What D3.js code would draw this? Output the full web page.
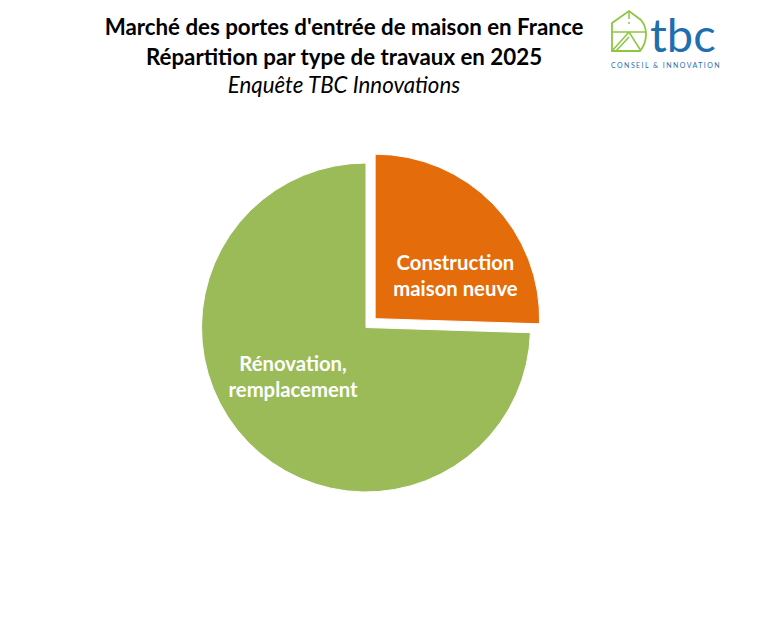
<!DOCTYPE html>
<html><head><meta charset="utf-8">
<script src="https://cdn.jsdelivr.net/npm/d3@7"></script>
<style>body{margin:0;background:#fff}</style>
</head><body>
<svg id="c" width="782" height="619"></svg>
<script>
const categories = ["Construction maison neuve", "Rénovation, remplacement"];
const labelLines = [["Construction", "maison neuve"], ["Rénovation,", "remplacement"]];
const values = [25.5, 74.5];
const colors = ["#E46C0A", "#9BBB59"];
const titleLines = ["Marché des portes d'entrée de maison en France", "Répartition par type de travaux en 2025"];
const subtitle = "Enquête TBC Innovations";

const svg = d3.select("#c");
const font = "Lato, 'Open Sans', sans-serif";
svg.append("rect").attr("width",782).attr("height",619).attr("fill","#fff");

titleLines.forEach((t,i)=>{
  svg.append("text").attr("x",344).attr("y",35+i*29.5).attr("text-anchor","middle")
    .attr("font-family",font).attr("font-weight","bold").attr("font-size",22.3).attr("fill","#000").text(t);
});
svg.append("text").attr("x",344).attr("y",93).attr("text-anchor","middle")
  .attr("font-family",font).attr("font-style","italic").attr("font-size",22.3).attr("fill","#000").text(subtitle);

const cx=366, cy=327.5, r=164.5, explode=12.7;
const pie = d3.pie().sort(null).value(d=>d)(values);
const arc = d3.arc().innerRadius(0).outerRadius(r);
// label placement (angle from 12 o'clock in degrees, distance from slice centre)
const labelPolar = [[62, 91], [236, 88]];
const g = svg.append("g").attr("transform",`translate(${cx},${cy})`);
pie.forEach((p,i)=>{
  const mid=(p.startAngle+p.endAngle)/2;
  const off = i===0?explode:0;
  const dx=Math.sin(mid)*off, dy=-Math.cos(mid)*off;
  const gg=g.append("g").attr("transform",`translate(${dx},${dy})`);
  gg.append("path").attr("d",arc(p)).attr("fill",colors[i]).attr("stroke","#fff").attr("stroke-width",1);
  const a = labelPolar[i][0]*Math.PI/180, d = labelPolar[i][1];
  const lx = Math.sin(a)*d, ly = -Math.cos(a)*d;
  const t = gg.append("text").attr("text-anchor","middle").attr("font-family",font)
    .attr("font-weight","bold").attr("font-size",20.3).attr("fill","#fff");
  labelLines[i].forEach((l,j)=>{
    t.append("tspan").attr("x",lx).attr("y",ly+(j-0.5)*26+7).text(l);
  });
});

// logo
const lg = svg.append("g");
const green="#8DC63F", blue="#1F6FAE";
lg.append("path").attr("d","M612,51 L612,23 L629,11 L641,20 Q646,26 646,34 Q646,44 640,51 Z").attr("fill","none").attr("stroke",green).attr("stroke-width",1.8);
lg.append("path").attr("d","M612,32 L646,32 M629,11 L629,19 M612,51 L629,32 L641,51 M616,51 L629,37").attr("fill","none").attr("stroke",green).attr("stroke-width",1.5);
lg.append("circle").attr("cx",629).attr("cy",23).attr("r",1).attr("fill",green);
lg.append("text").attr("x",650).attr("y",52).attr("font-family",font).attr("font-size",47).attr("fill",blue).text("tbc");
lg.append("text").attr("x",611).attr("y",68).attr("font-family",font).attr("font-size",7).attr("letter-spacing",1.45).attr("fill",blue).text("CONSEIL & INNOVATION");
</script>
</body></html>
